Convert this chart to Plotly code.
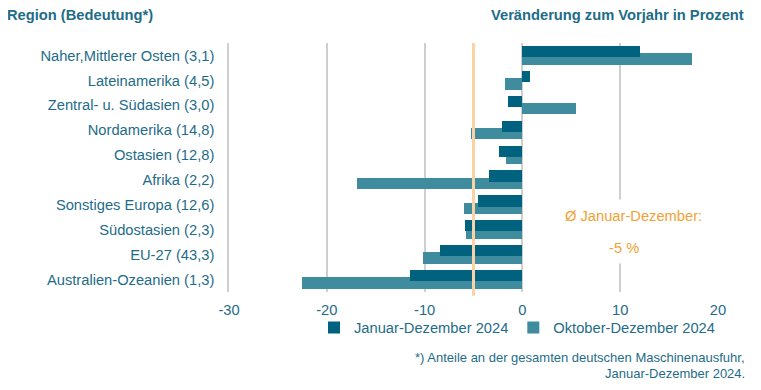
import plotly.graph_objects as go

categories = [
    "Naher,Mittlerer Osten (3,1)",
    "Lateinamerika (4,5)",
    "Zentral- u. Südasien (3,0)",
    "Nordamerika (14,8)",
    "Ostasien (12,8)",
    "Afrika (2,2)",
    "Sonstiges Europa (12,6)",
    "Südostasien (2,3)",
    "EU-27 (43,3)",
    "Australien-Ozeanien (1,3)",
]
jan_dez = [12.0, 0.8, -1.5, -2.1, -2.4, -3.4, -4.5, -5.9, -8.4, -11.5]
okt_dez = [17.3, -1.8, 5.5, -5.3, -1.7, -16.9, -6.0, -5.8, -10.2, -22.5]
avg_value = -5
x_ticks = [-30, -20, -10, 0, 10, 20]
footnote_lines = ["*) Anteile an der gesamten deutschen Maschinenausfuhr,",
                  "Januar-Dezember 2024."]

TEAL_TEXT = "#1E6C88"
DARK = "#00627E"
LIGHT = "#3F8C9E"
ORANGE_TXT = "#F2A135"
ORANGE_LINE = "#FBD1A6"
FONT = "Liberation Sans, Arial, sans-serif"
FS = 14.7

# figure is placed at an 8px page offset, so the figure is sized to fit inside
W, H = 745, 374
L, R, T, B = 221, 35, 35, 90
PW, PH = W - L - R, H - T - B


def py(fig_y):
    """figure pixel y -> paper y"""
    return (PH + T - fig_y) / PH


def px(fig_x):
    return (fig_x - L) / PW


fig = go.Figure()
fig.add_trace(go.Bar(
    y=categories, x=okt_dez, orientation="h", name="Oktober-Dezember 2024",
    marker=dict(color=LIGHT, line=dict(width=0)), offset=-0.09, width=0.46,
    legendrank=2,
))
fig.add_trace(go.Bar(
    y=categories, x=jan_dez, orientation="h", name="Januar-Dezember 2024",
    marker=dict(color=DARK, line=dict(width=0)), offset=-0.38, width=0.45,
    legendrank=1,
))

fig.add_shape(type="line", xref="x", yref="paper", x0=avg_value, x1=avg_value,
              y0=-0.015, y1=1, line=dict(color=ORANGE_LINE, width=3), layer="above")

fig.add_annotation(xref="x", yref="paper", x=12.0, y=py(207.5), yanchor="middle",
                   text="Ø Januar-Dezember:",
                   showarrow=False, font=dict(color=ORANGE_TXT, size=FS, family=FONT),
                   bgcolor="white", width=150, height=20, align="left", borderpad=6)
fig.add_annotation(xref="x", yref="paper", x=10.4, y=py(239.5), yanchor="middle",
                   text="-5 %",
                   showarrow=False, font=dict(color=ORANGE_TXT, size=FS, family=FONT),
                   bgcolor="white", height=19, borderpad=6)

fig.add_annotation(xref="paper", yref="paper", x=px(-3), y=py(-3),
                   xanchor="left", yanchor="top", text="<b>Region (Bedeutung*)</b>",
                   showarrow=False, font=dict(color=TEAL_TEXT, size=FS, family=FONT))
fig.add_annotation(xref="paper", yref="paper", x=px(738), y=py(-3),
                   xanchor="right", yanchor="top",
                   text="<b>Veränderung zum Vorjahr in Prozent</b>",
                   showarrow=False, font=dict(color=TEAL_TEXT, size=FS, family=FONT))
for line, fy in zip(footnote_lines, [349.5, 365.5]):
    fig.add_annotation(xref="paper", yref="paper", x=px(738), y=py(fy),
                       xanchor="right", yanchor="middle", align="right",
                       text=line, showarrow=False, borderpad=0,
                       font=dict(color=TEAL_TEXT, size=13, family=FONT))

fig.update_layout(
    width=W, height=H,
    margin=dict(l=L, r=R, t=T, b=B),
    paper_bgcolor="white", plot_bgcolor="white",
    barmode="overlay", bargap=0,
    font=dict(family=FONT, color=TEAL_TEXT, size=FS),
    showlegend=True,
    legend=dict(orientation="h", x=px(347 - 35 - 6), xanchor="left",
                y=py(320), yanchor="middle",
                font=dict(size=FS, color=TEAL_TEXT, family=FONT),
                itemwidth=30, tracegroupgap=0, bgcolor="rgba(0,0,0,0)"),
    xaxis=dict(range=[-30, 20], tickvals=x_ticks, ticktext=[str(v) for v in x_ticks],
               showgrid=True, gridcolor="#CFCFCF", gridwidth=1.5,
               zeroline=True, zerolinecolor="#CFCFCF", zerolinewidth=1.5,
               showline=False, ticks="", ticklabelstandoff=7,
               tickfont=dict(size=FS, color=TEAL_TEXT, family=FONT), fixedrange=True),
    yaxis=dict(autorange="reversed", showgrid=False, zeroline=False, ticks="",
               showline=True, linecolor="#CFCFCF", linewidth=1.5,
               ticklabelstandoff=10,
               tickfont=dict(size=FS, color=TEAL_TEXT, family=FONT), fixedrange=True),
)

fig.write_html("out.html")
